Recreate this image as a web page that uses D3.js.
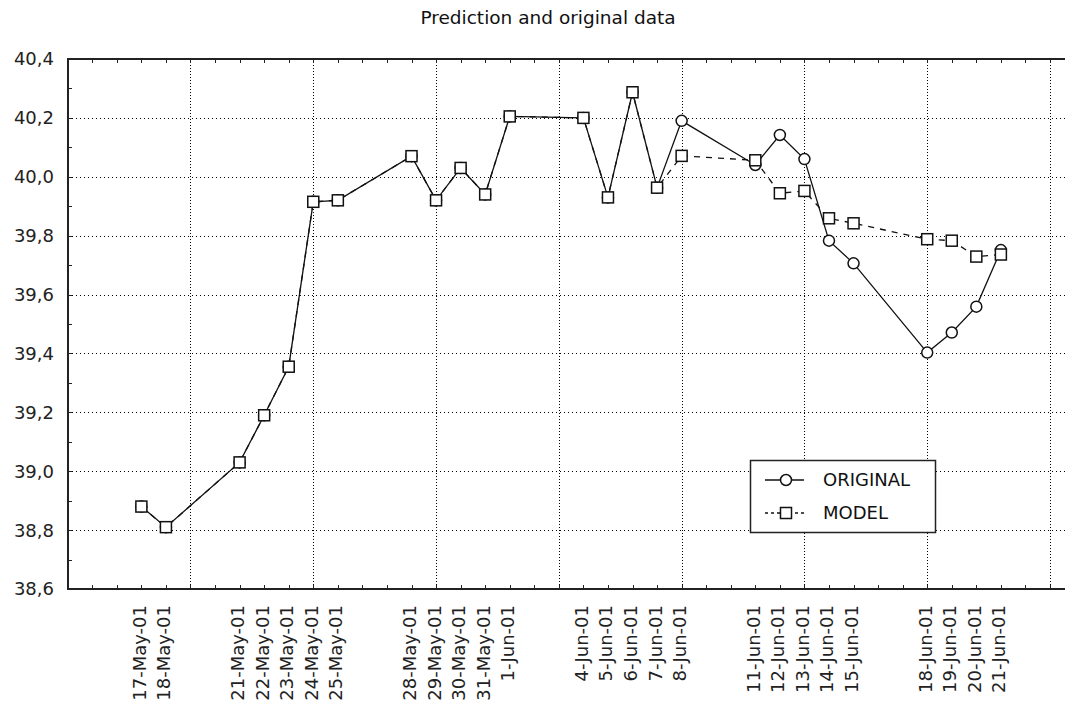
<!DOCTYPE html>
<html>
<head>
<meta charset="utf-8">
<script src="https://cdn.jsdelivr.net/npm/d3@7"></script>
<style>
  html, body { margin: 0; padding: 0; background: #fff; }
  svg { display: block; font-family: "DejaVu Sans", sans-serif; }
</style>
</head>
<body>
<svg id="chart" width="1065" height="706"></svg>
<script>
// Trading days shown on the horizontal axis
const dates = [
  "17-May-01","18-May-01","21-May-01","22-May-01","23-May-01","24-May-01","25-May-01",
  "28-May-01","29-May-01","30-May-01","31-May-01","1-Jun-01",
  "4-Jun-01","5-Jun-01","6-Jun-01","7-Jun-01","8-Jun-01",
  "11-Jun-01","12-Jun-01","13-Jun-01","14-Jun-01","15-Jun-01",
  "18-Jun-01","19-Jun-01","20-Jun-01","21-Jun-01"
];

// Observed series
const original = [
  38.88, 38.81, 39.03, 39.19, 39.355, 39.915, 39.92,
  40.07, 39.92, 40.03, 39.94, 40.205,
  40.20, 39.93, 40.287, 39.963, 40.19,
  40.04, 40.142, 40.06, 39.783, 39.706,
  39.403, 39.471, 39.559, 39.751
];

// Fitted / predicted series
const model = [
  38.88, 38.81, 39.03, 39.19, 39.355, 39.915, 39.92,
  40.07, 39.92, 40.03, 39.94, 40.205,
  40.20, 39.93, 40.287, 39.963, 40.071,
  40.056, 39.944, 39.952, 39.859, 39.842,
  39.788, 39.783, 39.729, 39.736
];

const yTicks = [38.6, 38.8, 39.0, 39.2, 39.4, 39.6, 39.8, 40.0, 40.2, 40.4];

const parse = d3.utcParse("%d-%b-%y");
const days = dates.map(parse);

const svg = d3.select("#chart");
const W = 1065;
const plotLeft = 67.7, plotTop = 59, plotBottom = 589, axisRight = W;

const x = d3.scaleUtc()
  .domain([new Date(Date.UTC(2001, 4, 14)), new Date(Date.UTC(2001, 5, 23))])
  .range([plotLeft, 1050]);
const y = d3.scaleLinear().domain([38.6, 40.4]).range([plotBottom, plotTop]);

const fmt = v => d3.format(".1f")(v).replace(".", ",");

// Title
svg.append("text")
  .attr("x", 548).attr("y", 24)
  .attr("text-anchor", "middle")
  .attr("font-size", 18.5)
  .attr("fill", "#111")
  .text("Prediction and original data");

// Grid
const grid = svg.append("g").attr("shape-rendering", "crispEdges");
grid.selectAll(".hg")
  .data(yTicks.filter(v => v > 38.6 && v < 40.4))
  .join("line")
  .attr("x1", plotLeft).attr("x2", axisRight)
  .attr("y1", d => Math.round(y(d)) + 0.5).attr("y2", d => Math.round(y(d)) + 0.5)
  .attr("stroke", "#000").attr("stroke-dasharray", "1,3");

const gridDates = d3.range(0, 8).map(i => d3.utcDay.offset(new Date(Date.UTC(2001, 4, 19)), i * 5));
grid.selectAll(".vg")
  .data(gridDates)
  .join("line")
  .attr("x1", d => Math.round(x(d)) + 0.5).attr("x2", d => Math.round(x(d)) + 0.5)
  .attr("y1", plotTop).attr("y2", plotBottom)
  .attr("stroke", "#000").attr("stroke-dasharray", "1,2");

// Axis ticks (inward)
const axes = svg.append("g").attr("shape-rendering", "crispEdges").attr("stroke", "#222");
const dayTicks = d3.utcDay.range(new Date(Date.UTC(2001, 4, 15)), new Date(Date.UTC(2001, 5, 25)));
axes.selectAll(".tt").data(dayTicks).join("line")
  .attr("x1", d => Math.round(x(d)) + 0.5).attr("x2", d => Math.round(x(d)) + 0.5)
  .attr("y1", plotTop).attr("y2", plotTop + 4);
axes.selectAll(".bt").data(dayTicks).join("line")
  .attr("x1", d => Math.round(x(d)) + 0.5).attr("x2", d => Math.round(x(d)) + 0.5)
  .attr("y1", plotBottom).attr("y2", plotBottom - 4);
const minorY = d3.range(1, 18).map(i => 38.6 + i * 0.1);
axes.selectAll(".lt").data(minorY).join("line")
  .attr("x1", plotLeft).attr("x2", plotLeft + 4)
  .attr("y1", d => Math.round(y(d)) + 0.5).attr("y2", d => Math.round(y(d)) + 0.5);

// Frame: left, top, bottom
const frame = svg.append("g").attr("stroke", "#222").attr("stroke-width", 2).attr("shape-rendering", "crispEdges");
frame.append("line").attr("x1", plotLeft).attr("x2", plotLeft).attr("y1", plotTop - 1).attr("y2", plotBottom + 1);
frame.append("line").attr("x1", plotLeft).attr("x2", axisRight).attr("y1", plotTop).attr("y2", plotTop);
frame.append("line").attr("x1", plotLeft).attr("x2", axisRight).attr("y1", plotBottom).attr("y2", plotBottom);

// Y tick labels
svg.append("g").selectAll("text").data(yTicks).join("text")
  .attr("x", 54).attr("y", d => y(d))
  .attr("dy", "0.36em")
  .attr("text-anchor", "end")
  .attr("font-size", 18)
  .attr("fill", "#222")
  .text(fmt);

// X tick labels, vertical
svg.append("g").selectAll("text").data(days).join("text")
  .attr("transform", d => `translate(${x(d) - 2},605) rotate(-90)`)
  .attr("dy", "0.36em")
  .attr("text-anchor", "end")
  .attr("font-size", 18)
  .attr("fill", "#222")
  .text((d, i) => dates[i]);

// Series
const line = d3.line().x((d, i) => x(days[i])).y(d => y(d));

svg.append("path")
  .datum(model)
  .attr("d", line)
  .attr("fill", "none").attr("stroke", "#111")
  .attr("stroke-width", 1.3).attr("stroke-dasharray", "6,6");

svg.append("path")
  .datum(original)
  .attr("d", line)
  .attr("fill", "none").attr("stroke", "#111")
  .attr("stroke-width", 1.3);

const ms = 11;
svg.append("g").selectAll("circle").data(original).join("circle")
  .attr("cx", (d, i) => x(days[i])).attr("cy", d => y(d))
  .attr("r", ms / 2)
  .attr("fill", "#fff").attr("stroke", "#111").attr("stroke-width", 1.5);

svg.append("g").selectAll("rect").data(model).join("rect")
  .attr("x", (d, i) => x(days[i]) - ms / 2).attr("y", d => y(d) - ms / 2)
  .attr("width", ms).attr("height", ms)
  .attr("fill", "#fff").attr("stroke", "#111").attr("stroke-width", 1.5);

// Legend
const lg = svg.append("g");
lg.append("rect")
  .attr("x", 750.5).attr("y", 460.5).attr("width", 185).attr("height", 72)
  .attr("fill", "#fff").attr("stroke", "#222").attr("stroke-width", 1.5);

const legendItems = [
  { name: "ORIGINAL", dash: null, shape: "circle", yy: 480 },
  { name: "MODEL", dash: "3,3", shape: "square", yy: 513 }
];
legendItems.forEach(it => {
  lg.append("line")
    .attr("x1", 765).attr("x2", 804)
    .attr("y1", it.yy).attr("y2", it.yy)
    .attr("stroke", "#111").attr("stroke-width", 1.3)
    .attr("stroke-dasharray", it.dash);
  if (it.shape === "circle") {
    lg.append("circle").attr("cx", 786).attr("cy", it.yy).attr("r", ms / 2)
      .attr("fill", "#fff").attr("stroke", "#111").attr("stroke-width", 1.5);
  } else {
    lg.append("rect").attr("x", 786 - ms / 2).attr("y", it.yy - ms / 2)
      .attr("width", ms).attr("height", ms)
      .attr("fill", "#fff").attr("stroke", "#111").attr("stroke-width", 1.5);
  }
  lg.append("text")
    .attr("x", 823).attr("y", it.yy).attr("dy", "0.36em")
    .attr("font-size", 18).attr("fill", "#111")
    .text(it.name);
});
</script>
</body>
</html>
